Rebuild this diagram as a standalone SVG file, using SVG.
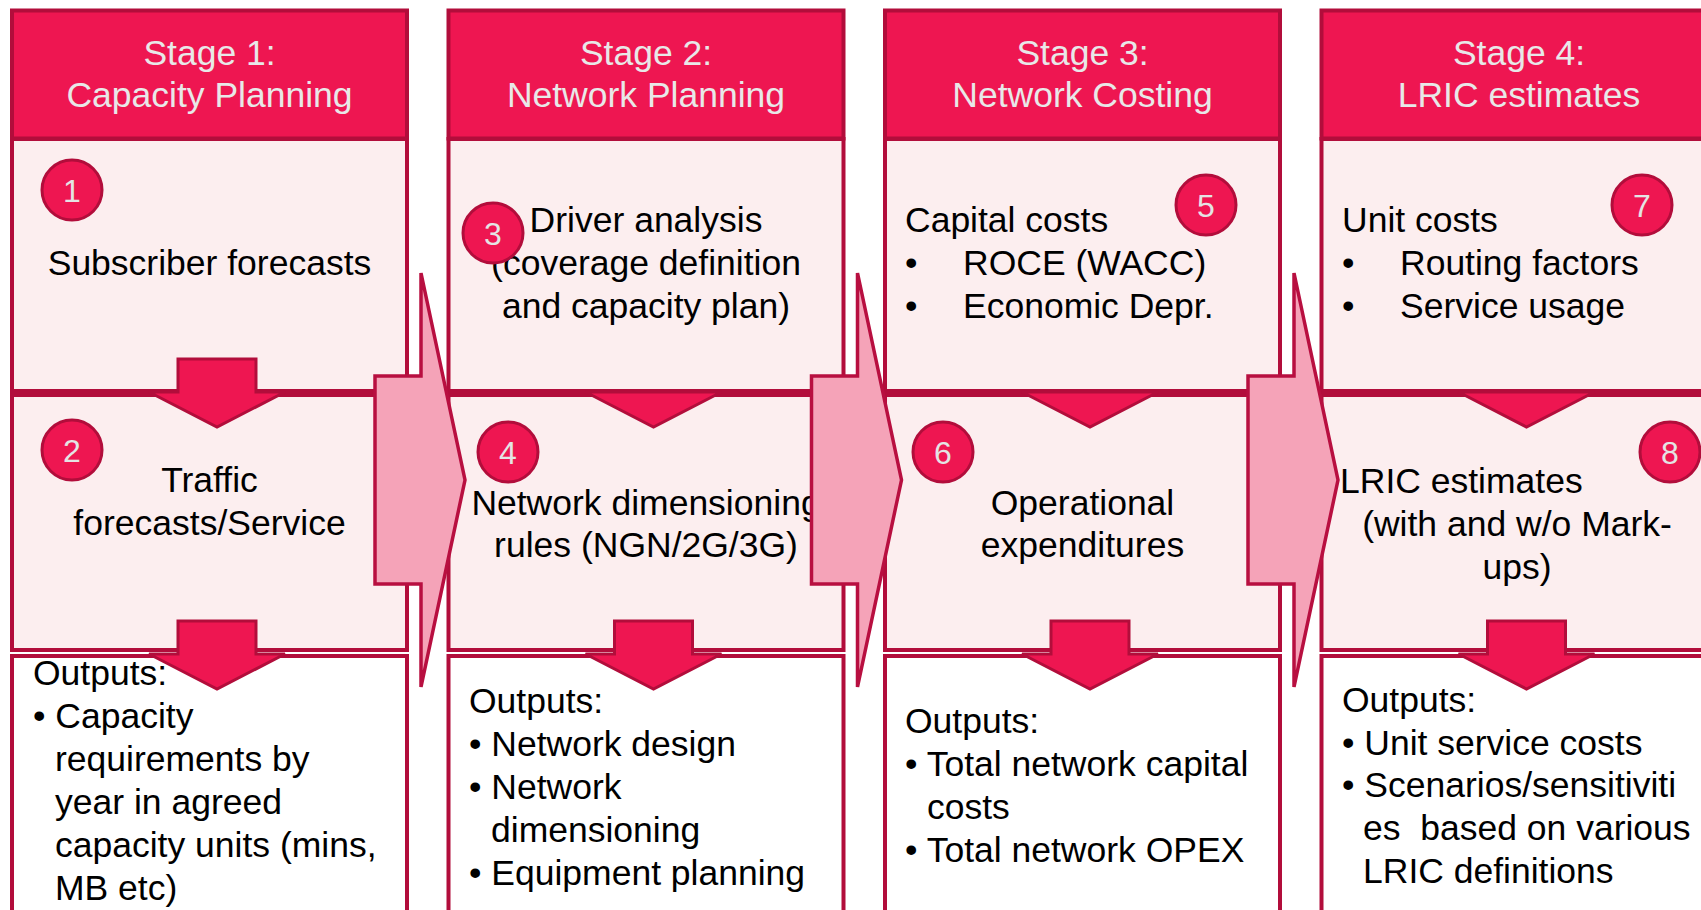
<svg xmlns="http://www.w3.org/2000/svg" xmlns:xlink="http://www.w3.org/1999/xlink" width="1701" height="910" viewBox="0 0 1701 910">
<style>
.hdr{fill:#EE1651;stroke:#B20D3B;stroke-width:4}
.box{fill:#FCEEEF;stroke:#B20D3B;stroke-width:4}
.out{fill:#FFFFFF;stroke:#B20D3B;stroke-width:4}
text{font-family:"Liberation Sans",Arial,sans-serif;font-size:35.5px;fill:#000}
.ht{fill:#E8E8E8;text-anchor:middle}
.c{text-anchor:middle}
.pre{white-space:pre}
.badge{fill:#EE1651;stroke:#B20D3B;stroke-width:3}
.num{font-size:32px;fill:#E4E4E4;text-anchor:middle}
.darr{fill:#EE1651;stroke:#B20D3B;stroke-width:3;stroke-linejoin:miter}
.rarr{fill:#F5A3B8;stroke:#B80F40;stroke-width:3.5;stroke-linejoin:miter}
</style>
<defs>
<polygon id="downArrow" class="darr" points="166,359 244,359 244,392 273,392 205,427 137,392 166,392"/>
<polygon id="downHead" class="darr" points="137,392 273,392 205,427"/>
<polygon id="rightArrow" class="rarr" points="375,376 421,376 421,273 465,480 421,687 421,584 375,584"/>
</defs>

<g id="stage1" transform="translate(12,0)">
<rect class="hdr" x="0" y="10.5" width="395" height="128"/>
<text class="ht" x="197.5" y="65">Stage 1:</text>
<text class="ht" x="197.5" y="107">Capacity Planning</text>
<rect class="box" x="0" y="139" width="395" height="252"/>
<rect class="box" x="0" y="395" width="395" height="255"/>
<rect class="out" x="0" y="656" width="395" height="280"/>
<text class="c" x="197.5" y="275">Subscriber forecasts</text>
<text class="c" x="197.5" y="492">Traffic</text>
<text class="c" x="197.5" y="535">forecasts/Service</text>
<text x="21" y="685">Outputs:</text>
<text x="21" y="728">• Capacity</text>
<text x="43" y="771">requirements by</text>
<text x="43" y="814">year in agreed</text>
<text x="43" y="857">capacity units (mins,</text>
<text x="43" y="900">MB etc)</text>
<g id="badge1"><circle class="badge" cx="60" cy="190" r="30"/><text class="num" x="60" y="202">1</text></g>
<g id="badge2"><circle class="badge" cx="60" cy="450" r="30"/><text class="num" x="60" y="462">2</text></g>
</g>

<g id="stage2" transform="translate(448.5,0)">
<rect class="hdr" x="0" y="10.5" width="395" height="128"/>
<text class="ht" x="197.5" y="65">Stage 2:</text>
<text class="ht" x="197.5" y="107">Network Planning</text>
<rect class="box" x="0" y="139" width="395" height="252"/>
<rect class="box" x="0" y="395" width="395" height="255"/>
<rect class="out" x="0" y="656" width="395" height="280"/>
<text class="c" x="197.5" y="232">Driver analysis</text>
<text class="c" x="197.5" y="275">(coverage definition</text>
<text class="c" x="197.5" y="318">and capacity plan)</text>
<text class="c" x="197.5" y="515">Network dimensioning</text>
<text class="c" x="197.5" y="557">rules (NGN/2G/3G)</text>
<text x="20.5" y="713">Outputs:</text>
<text x="20.5" y="756">• Network design</text>
<text x="20.5" y="799">• Network</text>
<text x="42.5" y="842">dimensioning</text>
<text x="20.5" y="885">• Equipment planning</text>
<g id="badge3"><circle class="badge" cx="44.5" cy="233" r="30"/><text class="num" x="44.5" y="245">3</text></g>
<g id="badge4"><circle class="badge" cx="59.5" cy="452" r="30"/><text class="num" x="59.5" y="464">4</text></g>
</g>

<g id="stage3" transform="translate(885,0)">
<rect class="hdr" x="0" y="10.5" width="395" height="128"/>
<text class="ht" x="197.5" y="65">Stage 3:</text>
<text class="ht" x="197.5" y="107">Network Costing</text>
<rect class="box" x="0" y="139" width="395" height="252"/>
<rect class="box" x="0" y="395" width="395" height="255"/>
<rect class="out" x="0" y="656" width="395" height="280"/>
<text x="20" y="232">Capital costs</text>
<text x="20" y="275">•</text>
<text x="78" y="275">ROCE (WACC)</text>
<text x="20" y="318">•</text>
<text x="78" y="318">Economic Depr.</text>
<text class="c" x="197.5" y="515">Operational</text>
<text class="c" x="197.5" y="557">expenditures</text>
<text x="20" y="733">Outputs:</text>
<text x="20" y="776">• Total network capital</text>
<text x="42" y="819">costs</text>
<text x="20" y="862">• Total network OPEX</text>
<g id="badge5"><circle class="badge" cx="321" cy="205" r="30"/><text class="num" x="321" y="217">5</text></g>
<g id="badge6"><circle class="badge" cx="58" cy="452" r="30"/><text class="num" x="58" y="464">6</text></g>
</g>

<g id="stage4" transform="translate(1321.5,0)">
<rect class="hdr" x="0" y="10.5" width="395" height="128"/>
<text class="ht" x="197.5" y="65">Stage 4:</text>
<text class="ht" x="197.5" y="107">LRIC estimates</text>
<rect class="box" x="0" y="139" width="395" height="252"/>
<rect class="box" x="0" y="395" width="395" height="255"/>
<rect class="out" x="0" y="656" width="395" height="280"/>
<text x="20.5" y="232">Unit costs</text>
<text x="20.5" y="275">•</text>
<text x="78.5" y="275">Routing factors</text>
<text x="20.5" y="318">•</text>
<text x="78.5" y="318">Service usage</text>
<text x="18.5" y="493">LRIC estimates</text>
<text class="c" x="195.5" y="536">(with and w/o Mark-</text>
<text class="c" x="195.5" y="579">ups)</text>
<text x="20.5" y="712">Outputs:</text>
<text x="20.5" y="755">• Unit service costs</text>
<text x="20.5" y="797">• Scenarios/sensitiviti</text>
<text class="pre" x="41.5" y="840">es  based on various</text>
<text x="41.5" y="883">LRIC definitions</text>
<g id="badge7"><circle class="badge" cx="320.5" cy="205" r="30"/><text class="num" x="320.5" y="217">7</text></g>
<g id="badge8"><circle class="badge" cx="348.5" cy="452" r="30"/><text class="num" x="348.5" y="464">8</text></g>
</g>

<g id="connectors">
<use xlink:href="#downArrow" transform="translate(12,0)"/>
<use xlink:href="#downArrow" transform="translate(12,262)"/>
<use xlink:href="#downHead" transform="translate(448.5,0)"/>
<use xlink:href="#downArrow" transform="translate(448.5,262)"/>
<use xlink:href="#downHead" transform="translate(885,0)"/>
<use xlink:href="#downArrow" transform="translate(885,262)"/>
<use xlink:href="#downHead" transform="translate(1321.5,0)"/>
<use xlink:href="#downArrow" transform="translate(1321.5,262)"/>
<use xlink:href="#rightArrow"/>
<use xlink:href="#rightArrow" transform="translate(436.5,0)"/>
<use xlink:href="#rightArrow" transform="translate(873,0)"/>
</g>
</svg>
